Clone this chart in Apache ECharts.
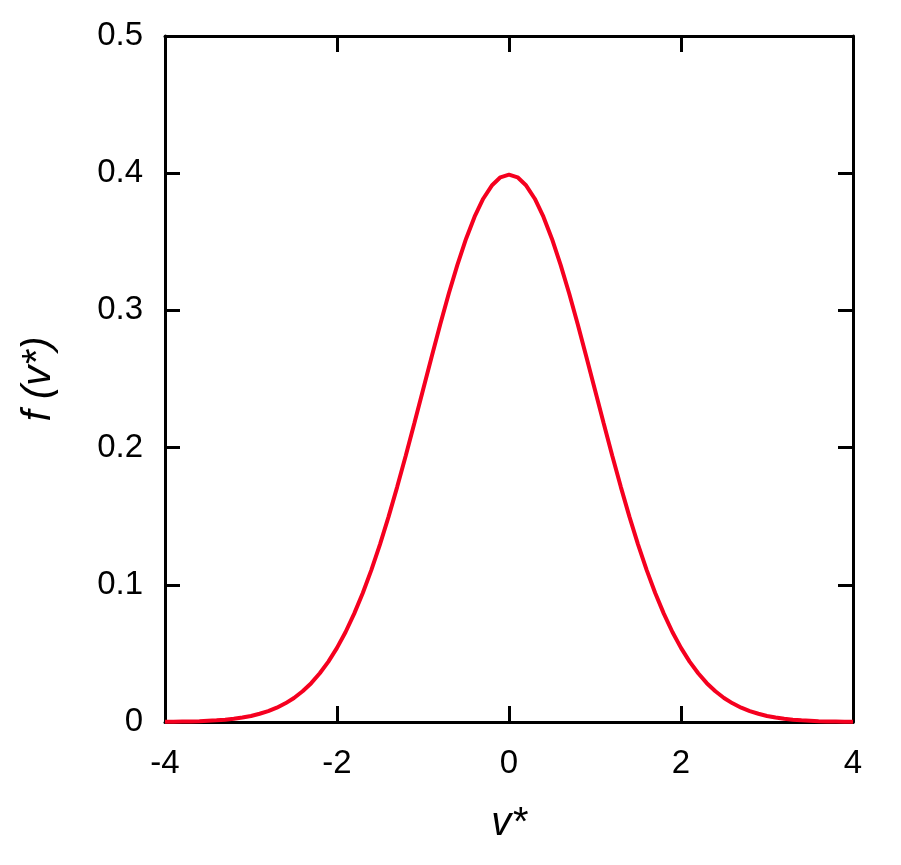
<!DOCTYPE html>
<html>
<head>
<meta charset="utf-8">
<script src="https://cdn.jsdelivr.net/npm/echarts@6/dist/echarts.min.js"></script>
<style>html,body{margin:0;padding:0;background:#fff}#c{width:901px;height:865px}</style>
</head>
<body>
<div id="c"></div>
<script>
const xValues = [-4.0,-3.9,-3.8,-3.7,-3.6,-3.5,-3.4,-3.3,-3.2,-3.1,-3.0,-2.9,-2.8,-2.7,-2.6,-2.5,-2.4,-2.3,-2.2,-2.1,-2.0,-1.9,-1.8,-1.7,-1.6,-1.5,-1.4,-1.3,-1.2,-1.1,-1.0,-0.9,-0.8,-0.7,-0.6,-0.5,-0.4,-0.3,-0.2,-0.1,0.0,0.1,0.2,0.3,0.4,0.5,0.6,0.7,0.8,0.9,1.0,1.1,1.2,1.3,1.4,1.5,1.6,1.7,1.8,1.9,2.0,2.1,2.2,2.3,2.4,2.5,2.6,2.7,2.8,2.9,3.0,3.1,3.2,3.3,3.4,3.5,3.6,3.7,3.8,3.9,4.0];
const fValues = [0.0001,0.0002,0.0003,0.0004,0.0006,0.0009,0.0012,0.0017,0.0024,0.0033,0.0044,0.0060,0.0079,0.0104,0.0136,0.0175,0.0224,0.0283,0.0355,0.0440,0.0540,0.0656,0.0790,0.0940,0.1109,0.1295,0.1497,0.1714,0.1942,0.2179,0.2420,0.2661,0.2897,0.3123,0.3332,0.3521,0.3683,0.3814,0.3910,0.3970,0.3989,0.3970,0.3910,0.3814,0.3683,0.3521,0.3332,0.3123,0.2897,0.2661,0.2420,0.2179,0.1942,0.1714,0.1497,0.1295,0.1109,0.0940,0.0790,0.0656,0.0540,0.0440,0.0355,0.0283,0.0224,0.0175,0.0136,0.0104,0.0079,0.0060,0.0044,0.0033,0.0024,0.0017,0.0012,0.0009,0.0006,0.0004,0.0003,0.0002,0.0001];
const xTitle = 'v*';
const yTitle = 'f (v*)';

const chart = echarts.init(document.getElementById('c'), null, {renderer: 'canvas'});
const font = 'Liberation Sans';
const axisLine = {show: true, onZero: false, lineStyle: {color: '#000', width: 3}};
const tick = {show: true, inside: true, length: 16, lineStyle: {color: '#000', width: 3}};
const lbl = {color: '#000', fontFamily: font, fontSize: 33};
const titleStyle = {color: '#000', fontFamily: font, fontSize: 40, fontStyle: 'italic'};
chart.setOption({
  animation: false,
  grid: {left: 165, right: 48, top: 36, bottom: 143},
  xAxis: [
    {type: 'value', min: -4, max: 4, interval: 2, position: 'bottom',
     axisLine, axisTick: tick, splitLine: {show: false},
     axisLabel: Object.assign({margin: 25}, lbl),
     name: xTitle, nameLocation: 'middle', nameGap: 82, nameTextStyle: titleStyle},
    {type: 'value', min: -4, max: 4, interval: 2, position: 'top',
     axisLine, axisTick: tick, splitLine: {show: false}, axisLabel: {show: false}}
  ],
  yAxis: [
    {type: 'value', min: 0, max: 0.5, interval: 0.1, position: 'left',
     axisLine, axisTick: Object.assign({}, tick, {length: 15}), splitLine: {show: false},
     axisLabel: Object.assign({margin: 22, formatter: v => v === 0 ? '0' : v.toFixed(1)}, lbl),
     name: yTitle, nameLocation: 'middle', nameGap: 106, nameRotate: 90, nameTextStyle: titleStyle},
    {type: 'value', min: 0, max: 0.5, interval: 0.1, position: 'right',
     axisLine, axisTick: Object.assign({}, tick, {length: 15}), splitLine: {show: false}, axisLabel: {show: false}}
  ],
  series: [{
    type: 'line', xAxisIndex: 0, yAxisIndex: 0,
    data: xValues.map((x, i) => [x, fValues[i]]),
    showSymbol: false, smooth: false,
    lineStyle: {color: '#f5001f', width: 4}
  }]
});
</script>
</body>
</html>
